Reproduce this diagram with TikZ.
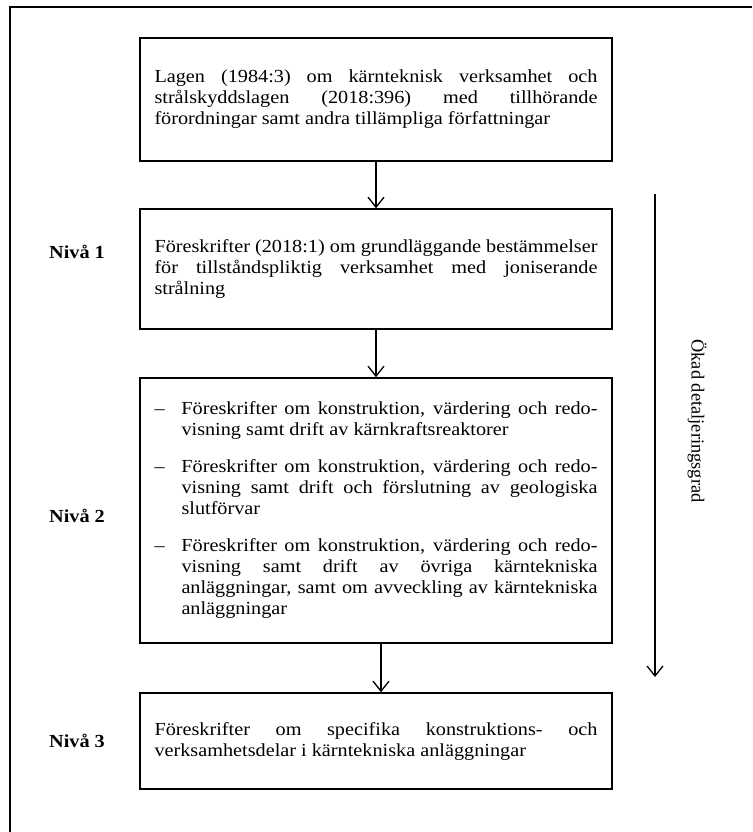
\documentclass[tikz,border=0pt]{standalone}
\usepackage{fontspec}
\setmainfont{Liberation Serif}[FakeStretch=1.10]
\newfontfamily\rotfont{Liberation Serif}
\usetikzlibrary{arrows.meta}
\newcommand\jline[1]{\hbox to \hsize{#1}}
\newcommand\eline[1]{\hbox{#1}}
\newcommand\bfirst[1]{\hbox to \hsize{\hbox to 27pt{–\hfil}#1}}
\newcommand\bjust[1]{\hbox to \hsize{\hskip 27pt #1}}
\newcommand\bend[1]{\hbox{\hskip 27pt #1}}
\newcommand\txtblock[1]{\vbox{\hsize=443pt\baselineskip=21pt\lineskiplimit=-20pt\relax #1}}
\tikzset{
  every node/.style={font=\fontsize{18.4}{21}\selectfont},
  levelbox/.style={draw, line width=1.6pt, inner sep=0pt, minimum width=472pt},
  levellabel/.style={font=\fontsize{18.4}{21}\selectfont\bfseries},
  flowarrow/.style={line width=1.3pt, -{Straight Barb[length=10pt,width=16pt,line width=1.3pt]}},
}
\begin{document}
\begin{tikzpicture}[x=1pt,y=-1pt]
\useasboundingbox (0,0) rectangle (752,832);
% outer frame (only top and left edges visible)
\draw[line width=2.4pt] (10,832) -- (10,7) -- (752,7);

\node[levelbox, minimum height=123pt] (b1) at (376,99.5) {\txtblock{%
\jline{Lagen (1984:3) om kärnteknisk verksamhet och}
\jline{strålskyddslagen (2018:396) med tillhörande}
\eline{förordningar samt andra tillämpliga författningar}}};

\node[levelbox, minimum height=120pt] (b2) at (376,269) {\txtblock{%
\jline{Föreskrifter (2018:1) om grundläggande bestämmelser}
\jline{för tillståndspliktig verksamhet med joniserande}
\eline{strålning}}};

\node[levelbox, minimum height=265pt] (b3) at (376,510.5) {\txtblock{%
\bfirst{Föreskrifter om konstruktion, värdering och redo-}
\bend{visning samt drift av kärnkraftsreaktorer}
\vskip 16pt
\bfirst{Föreskrifter om konstruktion, värdering och redo-}
\bjust{visning samt drift och förslutning av geologiska}
\bend{slutförvar}
\vskip 16pt
\bfirst{Föreskrifter om konstruktion, värdering och redo-}
\bjust{visning samt drift av övriga kärntekniska}
\bjust{anläggningar, samt om avveckling av kärntekniska}
\bend{anläggningar}}};

\node[levelbox, minimum height=96pt] (b4) at (376,741) {\txtblock{%
\jline{Föreskrifter om specifika konstruktions- och}
\eline{verksamhetsdelar i kärntekniska anläggningar}}};

\node[levellabel] (n1) at (77,252) {Nivå 1};
\node[levellabel] (n2) at (77,516) {Nivå 2};
\node[levellabel] (n3) at (77,741) {Nivå 3};

\draw[flowarrow] (b1.south) -- (b2.north);
\draw[flowarrow] (b2.south) -- (b3.north);
\draw[flowarrow] ([xshift=5pt]b3.south) -- ([xshift=5pt]b4.north);

\coordinate (dtop) at (655,194);
\coordinate (dbot) at (655,677);
\draw[flowarrow] (dtop) -- (dbot);
\node[rotate=-90, font=\rotfont\fontsize{18.4}{21}\selectfont] (dlabel) at (697,421) {Ökad detaljeringsgrad};
\end{tikzpicture}
\end{document}
